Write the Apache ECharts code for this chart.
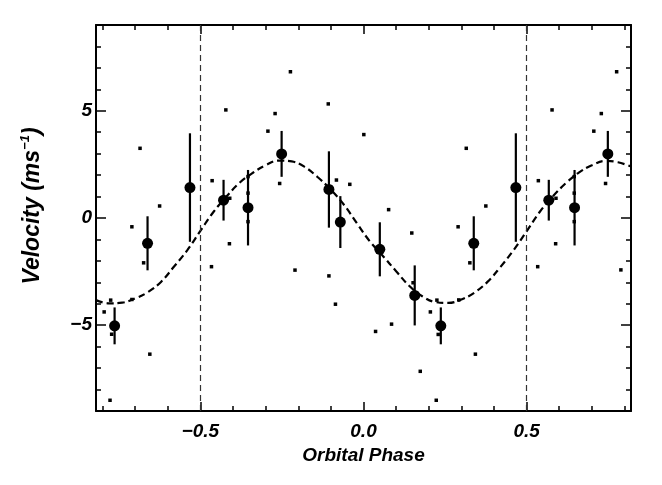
<!DOCTYPE html>
<html>
<head>
<meta charset="utf-8">
<script src="https://cdn.jsdelivr.net/npm/echarts@6/dist/echarts.min.js"></script>
<style>html,body{margin:0;padding:0;background:#fff}#chart{width:662px;height:485px}</style>
</head>
<body>
<div id="chart"></div>
<script>
// ---- data ----
// binned points with error bars (phase, velocity, error)
const phaseBig = [-0.763, -0.662, -0.532, -0.429, -0.354, -0.251, -0.106, -0.071, 0.050, 0.157, 0.237, 0.338, 0.467, 0.568, 0.647, 0.749];
const velBig   = [-5.03, -1.18, 1.42, 0.83, 0.48, 2.99, 1.33, -0.19, -1.46, -3.61, -5.03, -1.18, 1.42, 0.83, 0.48, 2.99];
const errBig   = [0.86, 1.26, 2.53, 0.95, 1.76, 1.07, 1.78, 1.21, 1.26, 1.40, 0.86, 1.26, 2.53, 0.95, 1.76, 1.07];

// individual measurements (small dots)
const phaseDots = [-0.685, 0.315, -0.422, 0.578, -0.464, 0.536, -0.625, 0.375, -0.710, 0.290,
  -0.411, 0.589, -0.674, 0.326, -0.466, 0.534, -0.795, 0.205, -0.775, 0.225,
  -0.710, 0.292, -0.772, 0.229, -0.777, 0.223, -0.655, 0.343, -0.224, 0.776,
  -0.271, 0.729, -0.293, 0.706, -0.257, 0.742, -0.210, 0.789, -0.108, 0.001,
  -0.083, -0.042, 0.077, 0.148, -0.106, -0.086, 0.037, 0.086, 0.174, 0.152,
  -0.354, 0.646, -0.354, 0.646, -0.354, 0.646, -0.410, 0.590];
const velDots = [3.25, 3.25, 5.04, 5.04, 1.74, 1.74, 0.56, 0.56, -0.41, -0.41,
  -1.20, -1.20, -2.09, -2.09, -2.27, -2.27, -4.38, -4.38, -3.83, -3.83,
  -3.80, -3.82, -5.42, -5.43, -8.50, -8.50, -6.35, -6.35, 6.82, 6.82,
  4.87, 4.87, 4.05, 4.05, 1.61, 1.61, -2.43, -2.42, 5.32, 3.89,
  1.77, 1.57, 0.39, -0.70, -2.70, -4.02, -5.29, -4.95, -7.15, -3.02,
  1.93, 1.93, 1.16, 1.16, -0.17, -0.17, 0.92, 0.92];

// model curve (dashed)
const phaseModel = [-0.82, -0.78, -0.74, -0.70, -0.66, -0.62, -0.58, -0.54, -0.50, -0.46, -0.42, -0.38, -0.34, -0.30, -0.26, -0.22, -0.18, -0.14, -0.10, -0.06, -0.02,
  0.02, 0.06, 0.10, 0.14, 0.18, 0.22, 0.26, 0.30, 0.34, 0.38, 0.42, 0.46, 0.50, 0.54, 0.58, 0.62, 0.66, 0.70, 0.74, 0.78, 0.82];
const velModel = [-3.83, -3.98, -3.95, -3.75, -3.45, -2.97, -2.25, -1.50, -0.60, 0.28, 1.00, 1.64, 2.10, 2.46, 2.68, 2.64, 2.38, 1.90, 1.32, 0.62, -0.25,
  -1.10, -1.78, -2.48, -3.16, -3.65, -3.92, -3.96, -3.80, -3.48, -2.98, -2.28, -1.50, -0.62, 0.28, 1.00, 1.62, 2.12, 2.46, 2.66, 2.60, 2.40];

// reference phase lines
const phaseMarkers = [-0.5, 0.5];

// axes
const xMin = -0.82, xMax = 0.82;
const yMin = -9, yMax = 9;
const xMajorTicks = [-0.5, 0.0, 0.5];
const xTickLabels = ['\u22120.5', '0.0', '0.5'];
const xMinorTicks = [-0.8, -0.7, -0.6, -0.4, -0.3, -0.2, -0.1, 0.1, 0.2, 0.3, 0.4, 0.6, 0.7, 0.8];
const yMajorTicks = [-5, 0, 5];
const yTickLabels = ['\u22125', '0', '5'];
const yMinorTicks = [-8, -7, -6, -4, -3, -2, -1, 1, 2, 3, 4, 6, 7, 8];

const xTitle = 'Orbital Phase';
const yTitleMain = 'Velocity (ms';
const yTitleSup = '\u22121';

// ---- chart ----
const FONT = 'Liberation Sans, Arial, Helvetica, sans-serif';
const labelStyle = {fontFamily: FONT, fontWeight: 'bold', fontStyle: 'italic', fontSize: 19, color: '#000'};
const pick = (vals, labels) => v => {
  const i = vals.findIndex(m => Math.abs(m - v) < 1e-9);
  return i >= 0 ? labels[i] : '';
};

function xAxisDef(pos, major, withLabels) {
  return {
    type: 'value', position: pos, min: xMin, max: xMax,
    axisLine: {show: major, onZero: false, lineStyle: {color: '#000', width: 2}},
    axisTick: {show: true, inside: true, length: major ? 9 : 5,
      customValues: major ? xMajorTicks : xMinorTicks,
      lineStyle: {color: '#000', width: 1.5}},
    axisLabel: withLabels ? Object.assign({show: true, customValues: xMajorTicks,
      formatter: pick(xMajorTicks, xTickLabels), margin: 11}, labelStyle) : {show: false},
    splitLine: {show: false},
    name: withLabels ? xTitle : '',
    nameLocation: 'middle', nameGap: 35,
    nameTextStyle: Object.assign({}, labelStyle, {fontSize: 19})
  };
}
function yAxisDef(pos, major, withLabels) {
  return {
    type: 'value', position: pos, min: yMin, max: yMax,
    axisLine: {show: major, onZero: false, lineStyle: {color: '#000', width: 2}},
    axisTick: {show: true, inside: true, length: major ? 10 : 5,
      customValues: major ? yMajorTicks : yMinorTicks,
      lineStyle: {color: '#000', width: 1.5}},
    axisLabel: withLabels ? Object.assign({show: true, customValues: yMajorTicks,
      formatter: pick(yMajorTicks, yTickLabels), margin: 4}, labelStyle) : {show: false},
    splitLine: {show: false}
  };
}

const chart = echarts.init(document.getElementById('chart'), null, {renderer: 'canvas'});
chart.setOption({
  animation: false,
  backgroundColor: '#fff',
  grid: {left: 96, right: 31, top: 25, bottom: 74, containLabel: false, outerBoundsMode: 'none'},
  xAxis: [xAxisDef('bottom', true, true), xAxisDef('bottom', false, false),
          xAxisDef('top', true, false), xAxisDef('top', false, false)],
  yAxis: [yAxisDef('left', true, true), yAxisDef('left', false, false),
          yAxisDef('right', true, false), yAxisDef('right', false, false)],
  graphic: [{
    type: 'text', x: 33, y: 206, rotation: Math.PI / 2,
    style: {
      text: '{a|' + yTitleMain + '}{b|' + yTitleSup + '}{a|)}',
      align: 'center', verticalAlign: 'middle',
      rich: {
        a: {fontFamily: FONT, fontWeight: 'bold', fontStyle: 'italic', fontSize: 23, lineHeight: 28, fill: '#000'},
        b: {fontFamily: FONT, fontWeight: 'bold', fontStyle: 'italic', fontSize: 13, lineHeight: 14, verticalAlign: 'top', fill: '#000'}
      }
    }
  }],
  series: [
    {
      type: 'line', name: 'model', xAxisIndex: 0, yAxisIndex: 0,
      data: phaseModel.map((p, i) => [p, velModel[i]]),
      smooth: 0.4, showSymbol: false, symbol: 'none',
      lineStyle: {color: '#000', width: 2.2, type: [7, 4]},
      z: 2,
      markLine: {
        silent: true, symbol: ['none', 'none'], label: {show: false},
        lineStyle: {color: '#333', width: 1.2, type: [6, 4]},
        data: phaseMarkers.map(p => ({xAxis: p}))
      }
    },
    {
      type: 'scatter', name: 'dots', xAxisIndex: 0, yAxisIndex: 0,
      data: phaseDots.map((p, i) => [p, velDots[i]]),
      symbol: 'rect', symbolSize: 3.5,
      itemStyle: {color: '#000', opacity: 1}, z: 3
    },
    {
      type: 'custom', name: 'errors', xAxisIndex: 0, yAxisIndex: 0,
      data: phaseBig.map((p, i) => [p, velBig[i], errBig[i]]),
      encode: {x: 0, y: 1},
      renderItem: (params, api) => {
        const x = api.value(0), y = api.value(1), e = api.value(2);
        const a = api.coord([x, y + e]);
        const b = api.coord([x, y - e]);
        return {type: 'line', shape: {x1: a[0], y1: a[1], x2: b[0], y2: b[1]},
          style: {stroke: '#000', lineWidth: 2.2}};
      },
      z: 4
    },
    {
      type: 'scatter', name: 'binned', xAxisIndex: 0, yAxisIndex: 0,
      data: phaseBig.map((p, i) => [p, velBig[i]]),
      symbol: 'circle', symbolSize: 11,
      itemStyle: {color: '#000', opacity: 1}, z: 5
    }
  ]
});
</script>
</body>
</html>
